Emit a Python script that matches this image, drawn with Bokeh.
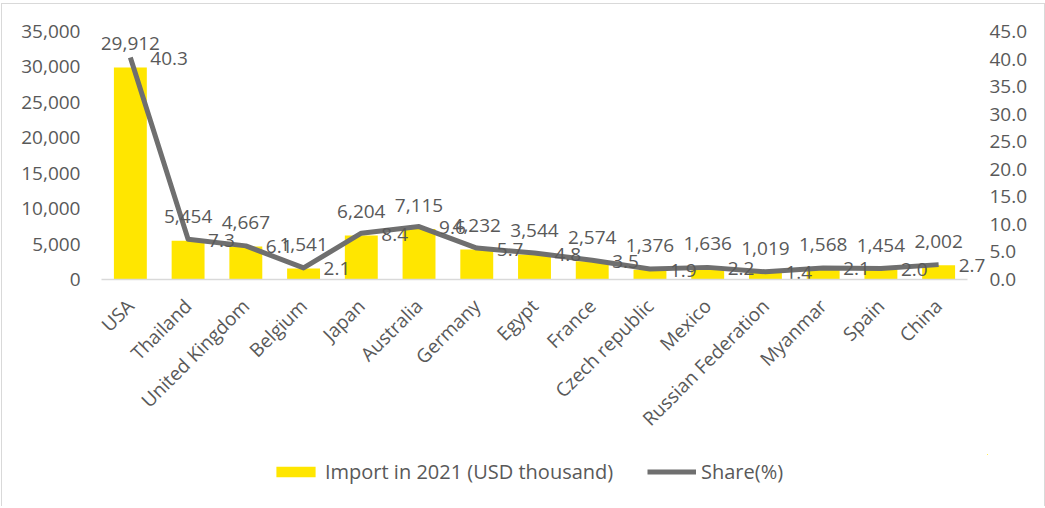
import math
from bokeh.plotting import figure
from bokeh.layouts import column
from bokeh.models import (Range1d, LinearAxis, NumeralTickFormatter,
                          FixedTicker, Legend, LegendItem, ColumnDataSource)
from bokeh.core.properties import value
from bokeh.embed import file_html
from bokeh.resources import INLINE

countries = ["USA", "Thailand", "United Kingdom", "Belgium", "Japan", "Australia",
             "Germany", "Egypt", "France", "Czech republic", "Mexico",
             "Russian Federation", "Myanmar", "Spain", "China"]
imports = [29912, 5454, 4667, 1541, 6204, 7115, 4232, 3544, 2574, 1376, 1636,
           1019, 1568, 1454, 2002]
shares = [40.3, 7.3, 6.1, 2.1, 8.4, 9.6, 5.7, 4.8, 3.5, 1.9, 2.2, 1.4, 2.1, 2.0, 2.7]
left_ticks = [0, 5000, 10000, 15000, 20000, 25000, 30000, 35000]
right_ticks = [0, 5, 10, 15, 20, 25, 30, 35, 40, 45]
series_names = ["Import in 2021 (USD thousand)", "Share(%)"]

FONT = "Open Sans"
TXT = "#595959"
BAR = "#FFE600"
LINE = "#6F6F6F"
FS = "19px"

# category slots: centre of slot i sits at i + 0.5 on a numeric x scale
xpos = [i + 0.5 for i in range(len(countries))]

src = ColumnDataSource(dict(
    x=xpos,
    imports=imports,
    shares=shares,
    imp_lbl=[f"{v:,}" for v in imports],
    sh_lbl=[f"{v:.1f}" for v in shares],
))

n = len(countries)
p = figure(width=1042, height=450, x_range=Range1d(0, n * 886 / 866),
           y_range=Range1d(0, 35000), output_backend="svg", toolbar_location=None,
           min_border_left=99, min_border_right=57, min_border_top=27,
           min_border_bottom=175)
p.extra_y_ranges = {"right": Range1d(0, 45)}
p.outline_line_color = None
p.xgrid.grid_line_color = None
p.ygrid.grid_line_color = None
p.background_fill_color = "white"
p.border_fill_color = "white"

p.vbar(x="x", top="imports", width=0.57, source=src, fill_color=BAR, line_color=None)
p.line(x="x", y="shares", source=src, y_range_name="right",
       line_color=LINE, line_width=5, line_join="round")

p.text(x="x", y="imports", text="imp_lbl", source=src,
       text_font=value(FONT), text_font_size=FS, text_color=TXT,
       text_align="center", text_baseline="alphabetic", y_offset=-24)
p.text(x="x", y="shares", text="sh_lbl", source=src, y_range_name="right",
       text_font=value(FONT), text_font_size=FS, text_color=TXT,
       text_align="left", text_baseline="middle", x_offset=20, y_offset=1)

# left axis
ya = p.yaxis[0]
ya.ticker = FixedTicker(ticks=left_ticks)
ya.formatter = NumeralTickFormatter(format="0,0")
ya.axis_line_color = None
ya.major_tick_line_color = None
ya.minor_tick_line_color = None
ya.major_tick_out = 0
ya.minor_tick_out = 0
ya.major_label_standoff = 21
ya.major_label_text_font = FONT
ya.major_label_text_font_size = FS
ya.major_label_text_color = TXT

ra = LinearAxis(y_range_name="right", ticker=FixedTicker(ticks=right_ticks),
                formatter=NumeralTickFormatter(format="0.0"))
ra.axis_line_color = None
ra.major_tick_line_color = None
ra.minor_tick_line_color = None
ra.major_tick_out = 0
ra.minor_tick_out = 0
ra.major_label_standoff = 2
ra.major_label_text_font = FONT
ra.major_label_text_font_size = FS
ra.major_label_text_color = TXT
p.add_layout(ra, "right")

xa = p.xaxis[0]
xa.ticker = FixedTicker(ticks=xpos)
xa.major_label_overrides = {x: c for x, c in zip(xpos, countries)}
xa.bounds = (0, n)
xa.axis_line_color = "#D9D9D9"
xa.axis_line_width = 1.5
xa.major_tick_line_color = None
xa.minor_tick_line_color = None
xa.major_tick_out = 0
xa.minor_tick_out = 0
xa.major_label_orientation = math.pi / 4
xa.major_label_standoff = 23
xa.major_label_text_font = FONT
xa.major_label_text_font_size = FS
xa.major_label_text_color = TXT

# legend strip below the chart (its renderers draw outside its visible ranges)
lf = figure(width=1042, height=52, x_range=Range1d(-10, -9), y_range=Range1d(-10, -9),
            output_backend="svg", toolbar_location=None,
            x_axis_location=None, y_axis_location=None,
            min_border_left=0, min_border_right=0, min_border_top=0,
            min_border_bottom=0)
lf.outline_line_color = None
lf.xgrid.grid_line_color = None
lf.ygrid.grid_line_color = None
lb = lf.vbar(x="x", top="imports", width=0.57, source=src, fill_color=BAR, line_color=None)
ll = lf.line(x="x", y="shares", source=src, line_color=LINE, line_width=5)

leg = Legend(items=[LegendItem(label=series_names[0], renderers=[lb]),
                    LegendItem(label=series_names[1], renderers=[ll])],
             location=(170, 21), orientation="horizontal", padding=0, margin=0,
             spacing=0, label_standoff=5, glyph_width=49, glyph_height=13,
             label_height=24, label_width=322,
             label_text_font=FONT, label_text_font_size="20px",
             label_text_color=TXT, border_line_color=None,
             background_fill_alpha=0)
lf.add_layout(leg, "center")

layout = column(p, lf, spacing=0)
layout.styles = {"margin-left": "1px", "margin-top": "3px",
                 "border-left": "1px solid #D9D9D9", "border-top": "1px solid #D9D9D9",
                 "border-right": "1px solid #D9D9D9"}
open("out.html", "w").write(file_html(layout, INLINE))
